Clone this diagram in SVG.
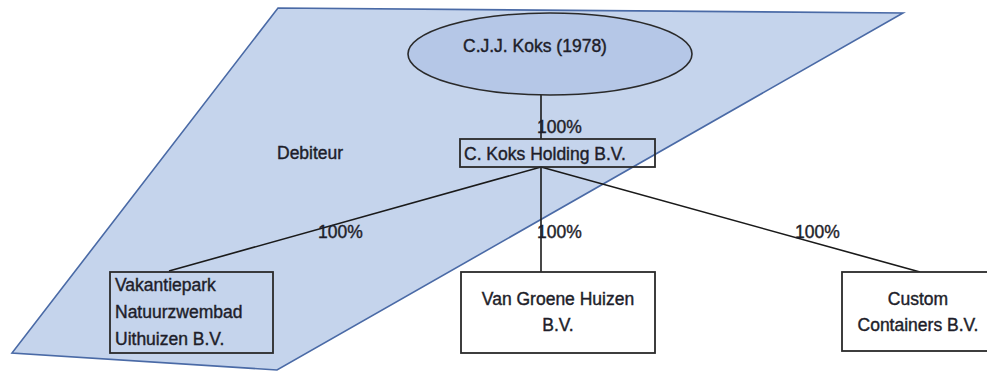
<svg xmlns="http://www.w3.org/2000/svg" width="987" height="371" viewBox="0 0 987 371">
<style>
text{font-family:"Liberation Sans",Arial,sans-serif;font-size:17.5px;fill:#1e1e2a;stroke:#1e1e2a;stroke-width:0.4}
.c{text-anchor:middle}
.box{fill:none;stroke:#2a2a2a;stroke-width:1.8}
.wbox{fill:#ffffff;stroke:#2a2a2a;stroke-width:1.8}
.conn{stroke:#1a1a1a;stroke-width:1.6;fill:none}
</style>
<rect width="987" height="371" fill="#ffffff"/>
<g id="debiteur-area">
<polygon points="278,8 903,13 277,370 12,353" fill="#c5d4ec" stroke="#4a6aa6" stroke-width="1.6"/>
<text x="277" y="159">Debiteur</text>
</g>
<g id="connectors">
<line class="conn" x1="541" y1="95" x2="541" y2="139"/>
<line class="conn" x1="541" y1="167" x2="169" y2="271"/>
<line class="conn" x1="541" y1="167" x2="541" y2="272"/>
<line class="conn" x1="541" y1="167" x2="920" y2="272"/>
<text x="537" y="133">100%</text>
<text x="318" y="238">100%</text>
<text x="537" y="238">100%</text>
<text x="795" y="238">100%</text>
</g>
<g id="koks">
<ellipse cx="550" cy="54" rx="142" ry="41" fill="#b5c7e7" stroke="#2a2a2a" stroke-width="1.6"/>
<text x="463" y="52">C.J.J. Koks (1978)</text>
</g>
<g id="holding">
<rect class="box" x="460" y="139" width="195" height="28"/>
<text x="464" y="160">C. Koks Holding B.V.</text>
</g>
<g id="vakantiepark">
<rect class="box" x="110" y="272" width="163" height="81"/>
<text x="115" y="291">Vakantiepark</text>
<text x="115" y="318">Natuurzwembad</text>
<text x="115" y="345">Uithuizen B.V.</text>
</g>
<g id="vangroene">
<rect class="wbox" x="461" y="272" width="194" height="81"/>
<text class="c" x="558" y="305">Van Groene Huizen</text>
<text class="c" x="558" y="331">B.V.</text>
</g>
<g id="custom">
<rect class="wbox" x="842" y="272" width="152" height="79"/>
<text class="c" x="918" y="305">Custom</text>
<text class="c" x="918" y="331">Containers B.V.</text>
</g>
</svg>
